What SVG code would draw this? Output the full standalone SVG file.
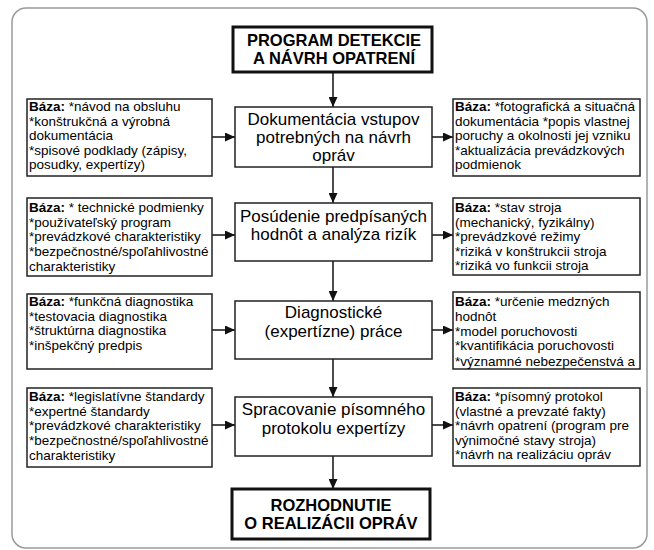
<svg xmlns="http://www.w3.org/2000/svg" width="654" height="550" viewBox="0 0 654 550">
<defs>
<marker id="ah" markerWidth="10" markerHeight="9" refX="10" refY="4.5" orient="auto" markerUnits="userSpaceOnUse">
<path d="M0,0 L10,4.5 L0,9 z" fill="#111"/>
</marker>
</defs>
<style>
.frame{fill:#fff;stroke:#9a9a9a;stroke-width:1.5}
.box{fill:#fff;stroke:#222;stroke-width:1.5}
.tbox{fill:#fff;stroke:#111;stroke-width:3}
.side{font-family:"Liberation Sans",Arial,sans-serif;font-size:13.5px;fill:#000}
.side .b{font-weight:bold}
.main{font-family:"Liberation Sans",Arial,sans-serif;font-size:17px;fill:#000;text-anchor:middle}
.ttl{font-family:"Liberation Sans",Arial,sans-serif;font-size:16.5px;font-weight:bold;fill:#000;text-anchor:middle}
.con{stroke:#111;stroke-width:1.5;fill:none;marker-end:url(#ah)}
</style>
<rect class="frame" x="12" y="8" width="635" height="540" rx="14"/>
<g id="connectors">
<line class="con" x1="333" y1="72" x2="333" y2="107"/>
<line class="con" x1="333" y1="167" x2="333" y2="203"/>
<line class="con" x1="333" y1="261" x2="333" y2="301"/>
<line class="con" x1="333" y1="359" x2="333" y2="397"/>
<line class="con" x1="333" y1="456" x2="333" y2="489"/>
<line class="con" x1="212" y1="137" x2="235" y2="137"/>
<line class="con" x1="212" y1="235" x2="235" y2="235"/>
<line class="con" x1="212" y1="330" x2="235" y2="330"/>
<line class="con" x1="212" y1="425" x2="235" y2="425"/>
<line class="con" x1="432" y1="137" x2="453" y2="137"/>
<line class="con" x1="432" y1="235" x2="453" y2="235"/>
<line class="con" x1="432" y1="330" x2="453" y2="330"/>
<line class="con" x1="432" y1="425" x2="453" y2="425"/>
</g>
<g id="title">
<rect class="tbox" x="233" y="27" width="199" height="45"/>
<text class="ttl" x="334" y="46">PROGRAM DETEKCIE</text>
<text class="ttl" x="334" y="64">A NÁVRH OPATRENÍ</text>
</g>
<g id="step1">
<rect class="box" x="235" y="107" width="197" height="60"/>
<text class="main" x="333.5" y="125">Dokumentácia vstupov</text>
<text class="main" x="333.5" y="143">potrebných na návrh</text>
<text class="main" x="333.5" y="161">opráv</text>
</g>
<g id="step2">
<rect class="box" x="235" y="203" width="197" height="58"/>
<text class="main" x="333.5" y="222">Posúdenie predpísaných</text>
<text class="main" x="333.5" y="240">hodnôt a analýza rizík</text>
</g>
<g id="step3">
<rect class="box" x="235" y="301" width="197" height="58"/>
<text class="main" x="333.5" y="318">Diagnostické</text>
<text class="main" x="333.5" y="337">(expertízne) práce</text>
</g>
<g id="step4">
<rect class="box" x="235" y="397" width="197" height="59"/>
<text class="main" x="333.5" y="415">Spracovanie písomného</text>
<text class="main" x="333.5" y="434">protokolu expertízy</text>
</g>
<g id="result">
<rect class="tbox" x="232" y="489" width="198" height="50"/>
<text class="ttl" x="331" y="511">ROZHODNUTIE</text>
<text class="ttl" x="331" y="529">O REALIZÁCII OPRÁV</text>
</g>
<g id="left1">
<rect class="box" x="27" y="99" width="185" height="77"/>
<text class="side" x="29" y="111"><tspan class="b">Báza:</tspan> *návod na obsluhu</text>
<text class="side" x="29" y="125.5">*konštrukčná a výrobná</text>
<text class="side" x="29" y="140">dokumentácia</text>
<text class="side" x="29" y="154.5">*spisové podklady (zápisy,</text>
<text class="side" x="29" y="169">posudky, expertízy)</text>
</g>
<g id="left2">
<rect class="box" x="27" y="198" width="185" height="78"/>
<text class="side" x="29" y="212">
<tspan class="b">Báza:</tspan> * technické podmienky</text>
<text class="side" x="29" y="226.5">*používateľský program</text>
<text class="side" x="29" y="241">*prevádzkové charakteristiky</text>
<text class="side" x="29" y="255.5">*bezpečnostné/spoľahlivostné</text>
<text class="side" x="29" y="270.5">charakteristiky</text>
</g>
<g id="left3">
<rect class="box" x="27" y="294" width="185" height="75"/>
<text class="side" x="29" y="306"><tspan class="b">Báza:</tspan> *funkčná diagnostika</text>
<text class="side" x="29" y="320.5">*testovacia diagnostika</text>
<text class="side" x="29" y="335">*štruktúrna diagnostika</text>
<text class="side" x="29" y="349.5">*inšpekčný predpis</text>
</g>
<g id="left4">
<rect class="box" x="27" y="388" width="185" height="79"/>
<text class="side" x="29" y="401"><tspan class="b">Báza:</tspan> *legislatívne štandardy</text>
<text class="side" x="29" y="415.5">*expertné štandardy</text>
<text class="side" x="29" y="430">*prevádzkové charakteristiky</text>
<text class="side" x="29" y="444.5">*bezpečnostné/spoľahlivostné</text>
<text class="side" x="29" y="459.5">charakteristiky</text>
</g>
<g id="right1">
<rect class="box" x="453" y="99" width="187" height="77"/>
<text class="side" x="455" y="111"><tspan class="b">Báza:</tspan> *fotografická a situačná</text>
<text class="side" x="455" y="125.5">dokumentácia *popis vlastnej</text>
<text class="side" x="455" y="140">poruchy a okolnosti jej vzniku</text>
<text class="side" x="455" y="154.5">*aktualizácia prevádzkových</text>
<text class="side" x="455" y="169">podmienok</text>
</g>
<g id="right2">
<rect class="box" x="453" y="198" width="187" height="77"/>
<text class="side" x="455" y="212"><tspan class="b">Báza:</tspan> *stav stroja</text>
<text class="side" x="455" y="226.5">(mechanický, fyzikálny)</text>
<text class="side" x="455" y="241">*prevádzkové režimy</text>
<text class="side" x="455" y="255.5">*riziká v konštrukcii stroja</text>
<text class="side" x="455" y="270">*riziká vo funkcii stroja</text>
</g>
<g id="right3">
<rect class="box" x="453" y="292" width="187" height="77"/>
<text class="side" x="455" y="306"><tspan class="b">Báza:</tspan> *určenie medzných</text>
<text class="side" x="455" y="320.8">hodnôt</text>
<text class="side" x="455" y="335.6">*model poruchovosti</text>
<text class="side" x="455" y="350.4">*kvantifikácia poruchovosti</text>
<text class="side" x="455" y="366">*významné nebezpečenstvá a</text>
</g>
<g id="right4">
<rect class="box" x="453" y="388" width="187" height="78"/>
<text class="side" x="455" y="401"><tspan class="b">Báza:</tspan> *písomný protokol</text>
<text class="side" x="455" y="415.5">(vlastné a prevzaté fakty)</text>
<text class="side" x="455" y="430">*návrh opatrení (program pre</text>
<text class="side" x="455" y="444.5">výnimočné stavy stroja)</text>
<text class="side" x="455" y="459">*návrh na realizáciu opráv</text>
</g>
</svg>
